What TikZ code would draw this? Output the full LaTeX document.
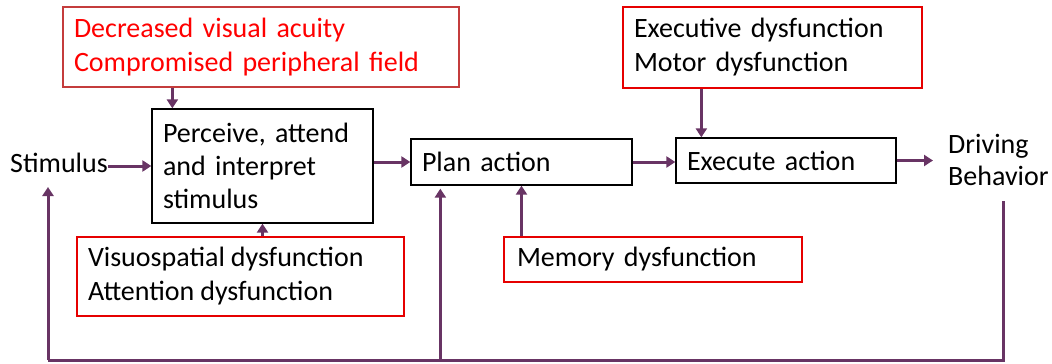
\documentclass[tikz,border=0pt]{standalone}
\usepackage{fontspec}
\setmainfont{Carlito}
\usetikzlibrary{arrows.meta}
\definecolor{arrowpurple}{RGB}{104,52,100}
\definecolor{boxred}{RGB}{230,0,0}
\definecolor{darkboxred}{RGB}{196,60,60}
\definecolor{textred}{RGB}{255,0,0}
\newcommand{\dfont}{\fontsize{28}{34}\selectfont}
\tikzset{
  basebox/.style={draw, line width=1.3pt, inner xsep=11pt, inner ysep=0pt, align=left, font=\dfont, anchor=center},
  procbox/.style={basebox, draw=black},
  redbox/.style={basebox, draw=boxred},
  plain/.style={inner sep=0pt, font=\dfont, align=left},
  arr/.style={draw=arrowpurple, line width=3pt, -{Triangle[length=9pt,width=11pt]}},
  fbline/.style={draw=arrowpurple, line width=3pt},
}
\begin{document}
\begin{tikzpicture}[x=1pt,y=-1pt]
\useasboundingbox (0,0) rectangle (1052,364);
% boxes
\node[basebox, draw=darkboxred, text=textred, text width=374pt, minimum height=80pt] (A) at (261,47)
  {Decreased visual acuity\\Compromised peripheral field};
\node[redbox, text width=277pt, minimum height=81pt] (X) at (772.5,47.5)
  {Executive dysfunction\\Motor dysfunction};
\node[procbox, text width=199pt, minimum height=114pt, font=\fontsize{28}{33}\selectfont] (P) at (262.5,166)
  {Perceive, attend\\and interpret\\stimulus};
\node[procbox, text width=199pt, minimum height=46pt] (L) at (521.5,162) {Plan action};
\node[procbox, text width=198pt, minimum height=45pt] (E) at (786,160.5) {Execute action};
\node[redbox, text width=305pt, minimum height=79pt] (V) at (240.5,276.5)
  {Visuospatial\hspace{-0.12em} dysfunction\\Attention\hspace{-0.12em} dysfunction};
\node[redbox, inner xsep=13pt, text width=272pt, minimum height=45pt] (M) at (653,259.5) {Memory dysfunction};
\node[plain, anchor=base west] (S) at (10,172) {Stimulus};
\node[plain, anchor=west, font=\fontsize{28}{32}\selectfont] (D) at (948,159.5) {Driving\\Behavior};
% main flow
\draw[arr] (S.east |- P.west) -- (P.west);
\draw[arr] (P.east |- L.west) -- (L.west);
\draw[arr] (L.east) -- (L.east -| E.west);
\draw[arr, shorten >=15pt] (E.east) -- (E.east -| D.west);
% influences
\draw[arr] ([xshift=21pt]P.north west |- A.south) -- ([xshift=21pt]P.north west);
\draw[arr] ([xshift=26pt]E.north west |- X.south) -- ([xshift=26pt]E.north west);
\draw[arr] (P.south |- V.north) -- (P.south);
\draw[arr] (L.south |- M.north) -- (L.south);
% feedback
\coordinate (fbR) at (1003,201);
\coordinate (fbB) at (48,360);
\coordinate (sIn) at (48,187);
\draw[fbline, line join=miter] (fbR) |- (fbB);
\draw[arr] (fbB) -- (sIn);
\draw[arr, shorten >=3pt] ([xshift=30pt]L.south west |- fbB) -- ([xshift=30pt]L.south west);
\end{tikzpicture}
\end{document}
